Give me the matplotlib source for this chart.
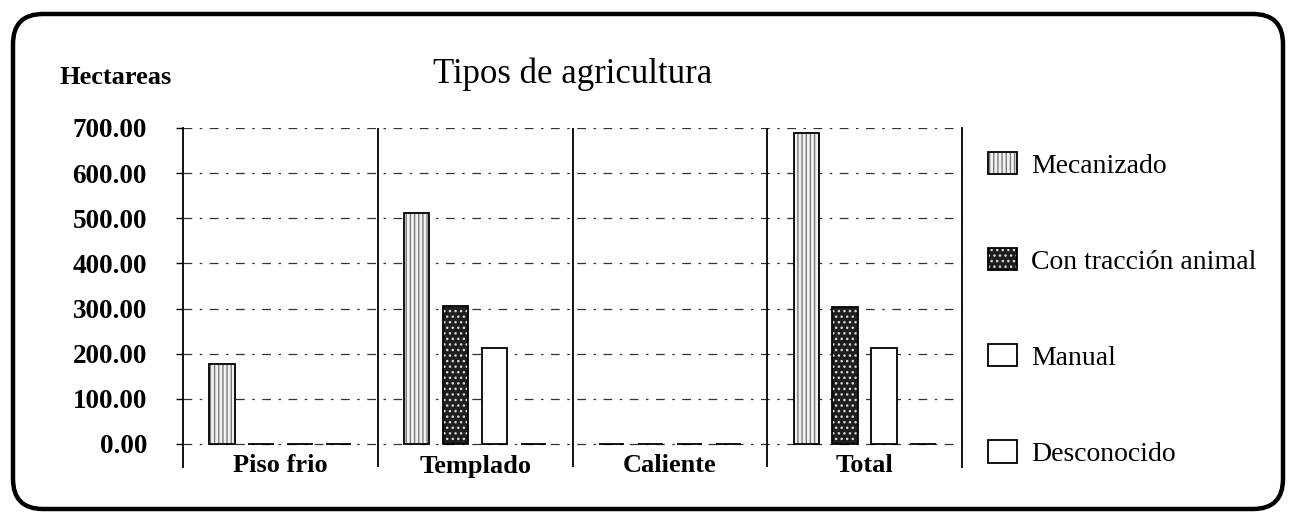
import matplotlib
matplotlib.use("Agg")
import matplotlib.pyplot as plt
from matplotlib.patches import FancyBboxPatch
from matplotlib.transforms import IdentityTransform
import numpy as np

categories = ["Piso frio", "Templado", "Caliente", "Total"]
series_names = ["Mecanizado", "Con tracción animal", "Manual", "Desconocido"]
mecanizado = [177, 512, 0, 688]
traccion_animal = [0, 306, 0, 304]
manual = [0, 212, 0, 212]
desconocido = [0, 0, 0, 0]
y_ticks = [0, 100, 200, 300, 400, 500, 600, 700]
y_label = "Hectareas"
title = "Tipos de agricultura"

plt.rcParams['font.family'] = ['Liberation Serif', 'DejaVu Serif']

W, H = 1289, 519
fig = plt.figure(figsize=(W / 100, H / 100), dpi=100)
fig.patch.set_facecolor('white')

ax_left, ax_right, ax_top, ax_bot = 183, 962, 128, 467
ax = fig.add_axes([ax_left / W, 1 - ax_bot / H, (ax_right - ax_left) / W, (ax_bot - ax_top) / H])

x = np.arange(len(categories))
offsets = [-0.3, -0.1, 0.1, 0.3]
width = 0.13
series = [mecanizado, traccion_animal, manual, desconocido]
styles = [
    dict(face='#f2f2f2', hatch='||||', hcol='#7a7a7a'),
    dict(face='#1e1e1e', hatch='...', hcol='#d8d8d8'),
    dict(face='white', hatch=None, hcol='white'),
    dict(face='white', hatch=None, hcol='white'),
]

handles = []
for vals, off, st in zip(series, offsets, styles):
    fill = ax.bar(x + off, vals, width, color=st['face'], hatch=st['hatch'],
                  edgecolor=st['hcol'], linewidth=0, zorder=3)
    outline = ax.bar(x + off, vals, width, fill=False, edgecolor='black',
                     linewidth=1.3, zorder=4)
    handles.append((fill, outline))

ax.set_xlim(-0.5, len(categories) - 0.5)
ax.set_ylim(-51, 700)
ax.set_yticks(y_ticks)
ax.set_yticklabels([f"{v:.2f}" for v in y_ticks], fontsize=19.5, fontweight='bold')
ax.tick_params(axis='y', length=5, width=1, pad=21, direction='out')
ax.set_xticks(x)
ax.set_xticklabels(categories, fontsize=19, fontweight='bold')
ax.tick_params(axis='x', length=0, pad=-9)

for s in ['top', 'bottom']:
    ax.spines[s].set_visible(False)
ax.spines['left'].set_linewidth(1.3)
ax.spines['right'].set_linewidth(1.3)

for b in np.arange(0.5, len(categories) - 0.5, 1.0):
    ax.axvline(b, color='black', linewidth=1.3, zorder=2)

ax.yaxis.grid(True, color='#333333', linestyle=(0, (7, 6, 2, 6)), linewidth=0.9, zorder=1)
ax.set_axisbelow(True)

ax.text(0.5, (ax_bot - 74) / (ax_bot - ax_top), title, transform=ax.transAxes,
        ha='center', va='center', fontsize=25)
fig.text(116 / W, 1 - 77 / H, y_label, ha='center', va='center', fontsize=19, fontweight='bold')

leg = fig.legend(handles, series_names, loc='upper left',
                 bbox_to_anchor=(988 / W, 1 - 152 / H), frameon=False,
                 fontsize=20, handlelength=1.05, handleheight=0.85,
                 handletextpad=0.5, labelspacing=2.5, borderpad=0, borderaxespad=0)

border = FancyBboxPatch((13, 10), 1270, 495,
                        boxstyle="round,pad=0,rounding_size=30",
                        transform=IdentityTransform(), fill=False,
                        edgecolor='black', linewidth=3.2)
fig.patches.append(border)

fig.savefig("out.png", dpi=100, facecolor='white')
